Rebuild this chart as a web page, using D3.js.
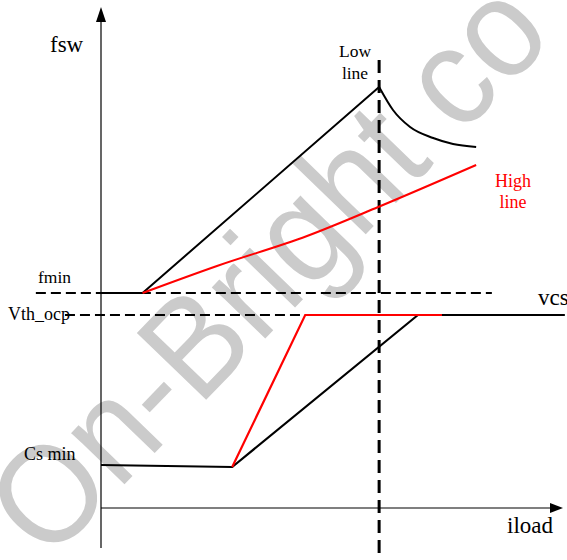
<!DOCTYPE html>
<html><head><meta charset="utf-8">
<script src="https://cdn.jsdelivr.net/npm/d3@7"></script>
<style>html,body{margin:0;padding:0;background:#fff;}svg{display:block;}</style>
</head><body>
<svg id="c" width="567" height="560"></svg>
<script>
// ---- data (abstract units: iload 0..100, y 0..100) ----
const fswLowLine = [[0,43],[9,43],[60.2,84.2]];
const fswLowDecay = [[60.2,84.2],[63.2,79.6],[66.9,76.2],[71.9,74.0],[76.2,72.8],[81.2,72.2]];
const fswHighLine = [[9,43],[25.1,48.4],[44.6,54.4],[60.0,60.2],[81.2,68.6]];
const vcsLowLine = [[0,8.6],[28.4,8.2],[68.6,38.6],[100.4,38.6]];
const vcsHighLine = [[28.4,8.2],[44.2,38.6],[73.8,38.6]];
const fminLevel = 43, fminRange = [-14.1, 84.6];
const vthLevel = 38.6, vthRange = [-7.8, 44.2];
const lineBoundary = 60.2;
const labels = {fsw:"fsw", iload:"iload", vcs:"vcs", fmin:"fmin", vth:"Vth_ocp", cs:"Cs min", low:["Low","line"], high:["High","line"]};
const watermark = "On-Bright co";

const svg = d3.select("#c");
const x = d3.scaleLinear().domain([0,100]).range([101,563]);
const y = d3.scaleLinear().domain([0,100]).range([508,8]);
const serif = "'Liberation Serif','Times New Roman',serif";

// watermark
svg.append("text").attr("transform","translate(47.9,563.5) rotate(-46) scale(0.93,1)")
  .attr("font-family","'Liberation Sans',Arial,sans-serif").attr("font-size",140)
  .attr("fill","#cbcbcb").text(watermark);

// axes
svg.append("line").attr("x1",x(0)).attr("x2",x(0)).attr("y1",548).attr("y2",20).attr("stroke","#000").attr("stroke-width",1.2);
svg.append("path").attr("d",`M${x(0)},7 L${x(0)-5},22 L${x(0)+5},22Z`).attr("fill","#000");
svg.append("line").attr("x1",x(0)).attr("x2",552).attr("y1",y(0)).attr("y2",y(0)).attr("stroke","#000").attr("stroke-width",1.2);
svg.append("path").attr("d",`M563,${y(0)} L550,${y(0)-5} L550,${y(0)+5}Z`).attr("fill","#000");

// dashed reference lines
svg.append("line").attr("x1",x(fminRange[0])).attr("x2",x(fminRange[1])).attr("y1",y(fminLevel)).attr("y2",y(fminLevel))
  .attr("stroke","#000").attr("stroke-width",2).attr("stroke-dasharray","10,5");
svg.append("line").attr("x1",x(vthRange[0])).attr("x2",x(vthRange[1])).attr("y1",y(vthLevel)).attr("y2",y(vthLevel))
  .attr("stroke","#000").attr("stroke-width",2).attr("stroke-dasharray","10,5");
svg.append("line").attr("x1",x(lineBoundary)).attr("x2",x(lineBoundary)).attr("y1",60).attr("y2",560)
  .attr("stroke","#000").attr("stroke-width",3).attr("stroke-dasharray","13,7");

const lin = d3.line().x(d=>x(d[0])).y(d=>y(d[1]));
const cur = d3.line().x(d=>x(d[0])).y(d=>y(d[1])).curve(d3.curveMonotoneX);
svg.append("path").attr("d",lin(fswLowLine)).attr("fill","none").attr("stroke","#000").attr("stroke-width",2);
svg.append("path").attr("d",cur(fswLowDecay)).attr("fill","none").attr("stroke","#000").attr("stroke-width",2);
svg.append("path").attr("d",cur(fswHighLine)).attr("fill","none").attr("stroke","#ff0000").attr("stroke-width",2);
svg.append("path").attr("d",lin(vcsLowLine)).attr("fill","none").attr("stroke","#000").attr("stroke-width",2.2);
svg.append("path").attr("d",lin(vcsHighLine)).attr("fill","none").attr("stroke","#ff0000").attr("stroke-width",2.2);

// labels
function t(txt,px,py,size,color,anchor){
  svg.append("text").attr("x",px).attr("y",py).attr("font-family",serif).attr("font-size",size)
   .attr("fill",color||"#000").attr("text-anchor",anchor||"start").text(txt);
}
t(labels.fsw,50,52,23);
t(labels.iload,507,533,23);
t(labels.vcs,538,305,23);
t(labels.fmin,38,283,17.5);
t(labels.vth,8,320,18);
t(labels.cs,24,460,18);
t(labels.low[0],355,57,17.5,"#000","middle");
t(labels.low[1],355,79,17.5,"#000","middle");
t(labels.high[0],513,187,18,"#ff0000","middle");
t(labels.high[1],513,208,18,"#ff0000","middle");
</script>
</body></html>
